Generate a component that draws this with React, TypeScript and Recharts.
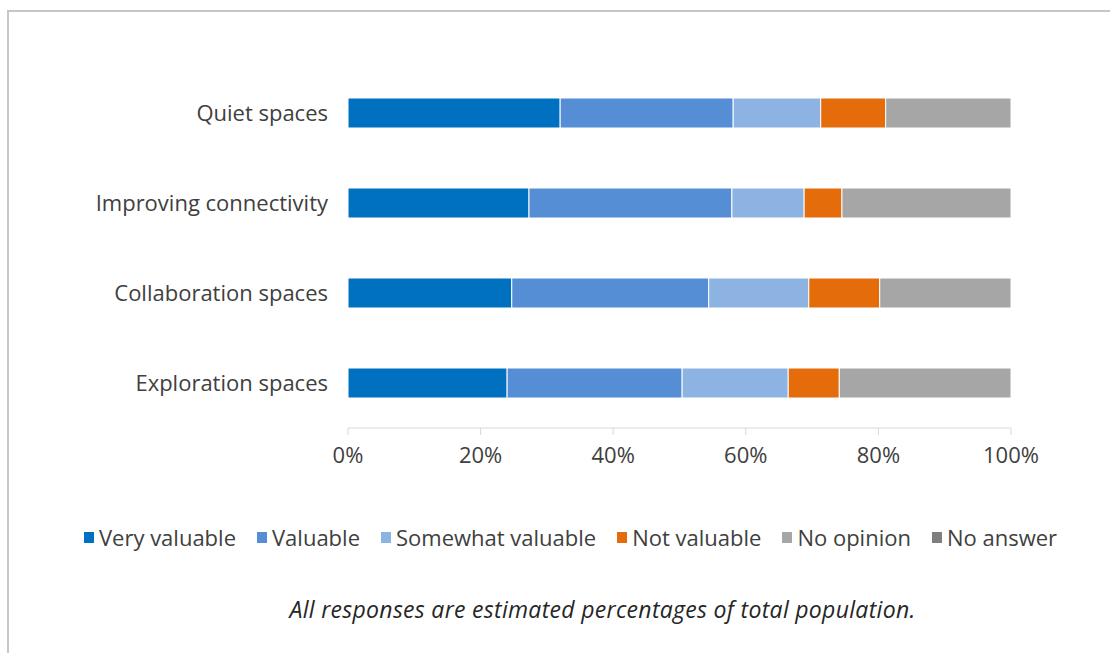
import { Bar, BarChart, XAxis, YAxis } from "recharts";

const CATEGORIES = ["Quiet spaces", "Improving connectivity", "Collaboration spaces", "Exploration spaces"];
const VERY_VALUABLE = [32.0, 27.3, 24.7, 24.0];
const VALUABLE = [26.1, 30.6, 29.7, 26.4];
const SOMEWHAT_VALUABLE = [13.2, 10.9, 15.1, 16.0];
const NOT_VALUABLE = [9.8, 5.7, 10.7, 7.7];
const NO_OPINION = [18.9, 25.5, 19.8, 25.9];
const NO_ANSWER = [0, 0, 0, 0];
const X_TICKS = [0, 20, 40, 60, 80, 100];

const SERIES = [
  { key: "veryValuable", name: "Very valuable", color: "#0070c0", values: VERY_VALUABLE },
  { key: "valuable", name: "Valuable", color: "#558ed5", values: VALUABLE },
  { key: "somewhat", name: "Somewhat valuable", color: "#8db3e2", values: SOMEWHAT_VALUABLE },
  { key: "notValuable", name: "Not valuable", color: "#e46c0a", values: NOT_VALUABLE },
  { key: "noOpinion", name: "No opinion", color: "#a6a6a6", values: NO_OPINION },
  { key: "noAnswer", name: "No answer", color: "#7f7f7f", values: NO_ANSWER },
];

const FONT = "'Open Sans', 'Noto Sans', sans-serif";
const TEXT = "#404040";

export default function App() {
  const data = CATEGORIES.map((name, i) => {
    const row: Record<string, string | number> = { name };
    SERIES.forEach((s) => (row[s.key] = s.values[i]));
    return row;
  });

  return (
    <div style={{ position: "fixed", left: 0, top: 0, width: 1110, height: 653, background: "#fff", fontFamily: FONT, overflow: "hidden" }}>
      <div style={{ position: "absolute", left: 7, top: 10, width: 1200, height: 700, border: "2px solid #c6c6c6" }} />
      <BarChart
        width={1110}
        height={653}
        data={data}
        layout="vertical"
        barSize={30}
        margin={{ top: 68, right: 99, bottom: 165, left: 0 }}
        style={{ position: "absolute", left: 0, top: 0 }}
      >
        <XAxis
          type="number"
          domain={[0, 100]}
          ticks={X_TICKS}
          tickFormatter={(v: number) => `${v}%`}
          axisLine={{ stroke: "#d9d9d9" }}
          tickLine={{ stroke: "#d9d9d9" }}
          tickSize={7}
          tickMargin={12}
          tick={{ fill: TEXT, fontSize: 22, fontFamily: FONT }}
          height={60}
          interval={0}
        />
        <YAxis
          type="category"
          dataKey="name"
          width={348}
          axisLine={false}
          tickLine={false}
          tickMargin={14}
          tick={{ fill: TEXT, fontSize: 22, fontFamily: FONT }}
        />
        {SERIES.map((s) => (
          <Bar
            key={s.key}
            dataKey={s.key}
            name={s.name}
            stackId="a"
            fill={s.color}
            stroke="#ffffff"
            strokeWidth={1}
            isAnimationActive={false}
          />
        ))}
      </BarChart>
      <div
        style={{
          position: "absolute",
          left: 0,
          width: 1141,
          top: 522,
          display: "flex",
          justifyContent: "center",
          gap: 21,
          fontSize: 22,
          color: TEXT,
        }}
      >
        {SERIES.map((s) => (
          <span key={s.key} style={{ display: "flex", alignItems: "center", gap: 5 }}>
            <span style={{ width: 10, height: 11, background: s.color, display: "inline-block" }} />
            {s.name}
          </span>
        ))}
      </div>
      <div
        style={{
          position: "absolute",
          left: 0,
          width: 1205,
          top: 593,
          textAlign: "center",
          fontStyle: "italic",
          fontSize: 23,
          letterSpacing: 0.3,
          color: "#262626",
        }}
      >
        All responses are estimated percentages of total population.
      </div>
    </div>
  );
}
